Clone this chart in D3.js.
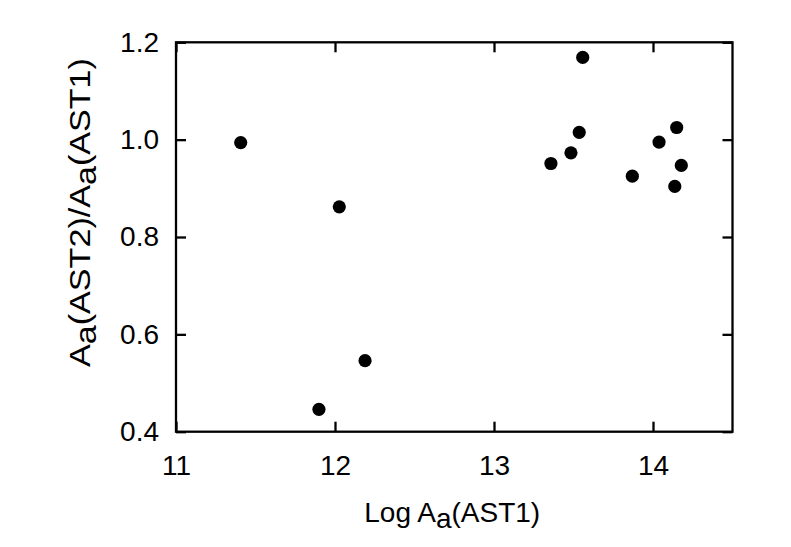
<!DOCTYPE html>
<html><head><meta charset="utf-8">
<script src="https://cdn.jsdelivr.net/npm/d3@7"></script>
<style>body{margin:0;background:#fff}svg{display:block}text{font-family:"Liberation Sans",Arial,sans-serif;fill:#000}</style>
</head><body>
<svg id="c" width="791" height="547"></svg>
<script>
const xValues = [11.407, 12.027, 11.899, 12.189, 13.358, 13.484, 13.536, 13.558, 13.870, 14.038, 14.149, 14.178, 14.137];
const yValues = [0.994, 0.862, 0.446, 0.546, 0.951, 0.973, 1.015, 1.169, 0.925, 0.995, 1.025, 0.947, 0.904];
const xTicks = [11, 12, 13, 14];
const yTicks = [0.4, 0.6, 0.8, 1.0, 1.2];

const svg = d3.select("#c");
const L = 176, R = 732.5, T = 42.3, B = 431.7;
const x = d3.scaleLinear().domain([11, 14.5]).range([L, R]);
const y = d3.scaleLinear().domain([0.4, 1.2]).range([B, T]);
const fs = 28;
const tickLen = 10;

const g = svg.append("g");
// bottom axis with inward ticks
const xb = g.append("g").attr("transform", `translate(0,${B})`)
  .call(d3.axisBottom(x).tickValues(xTicks).tickFormat(d3.format("d")).tickSizeInner(-tickLen).tickSizeOuter(0).tickPadding(23));
const xt = g.append("g").attr("transform", `translate(0,${T})`)
  .call(d3.axisTop(x).tickValues(xTicks).tickFormat("").tickSizeInner(-tickLen).tickSizeOuter(0));
const yl = g.append("g").attr("transform", `translate(${L},0)`)
  .call(d3.axisLeft(y).tickValues(yTicks).tickFormat(d3.format(".1f")).tickSizeInner(-tickLen).tickSizeOuter(0).tickPadding(17));
const yr = g.append("g").attr("transform", `translate(${R},0)`)
  .call(d3.axisRight(y).tickValues(yTicks).tickFormat("").tickSizeInner(-tickLen).tickSizeOuter(0));
[xb, xt, yl, yr].forEach(a => {
  a.select(".domain").remove();
  a.selectAll(".tick line").attr("stroke", "#000").attr("stroke-width", 2.3);
  a.selectAll("text").attr("font-size", fs).attr("font-family", '"Liberation Sans",Arial,sans-serif').attr("fill", "#000");
});
xb.selectAll("text").attr("dy", "0.71em");
// frame
g.append("rect").attr("x", L).attr("y", T).attr("width", R - L).attr("height", B - T)
  .attr("fill", "none").attr("stroke", "#000").attr("stroke-width", 2.3);

// points
g.selectAll("circle.pt").data(xValues.map((v, i) => [v, yValues[i]])).join("circle")
  .attr("class", "pt").attr("cx", d => x(d[0])).attr("cy", d => y(d[1])).attr("r", 6.6).attr("fill", "#000");

// x title
const xtitle = svg.append("text").attr("x", (L + R) / 2 - 2).attr("y", 521.7).attr("text-anchor", "middle").attr("font-size", fs);
xtitle.append("tspan").text("Log A");
xtitle.append("tspan").attr("dy", 6).text("a");
xtitle.append("tspan").attr("dy", -6).text("(AST1)");

// y title
const ytitle = svg.append("text").attr("text-anchor", "middle").attr("font-size", 30)
  .attr("transform", "translate(90,212.5) rotate(-90) scale(1.137,1)");
ytitle.append("tspan").text("A");
ytitle.append("tspan").attr("dy", 6).text("a");
ytitle.append("tspan").attr("dy", -6).text("(AST2)/A");
ytitle.append("tspan").attr("dy", 6).text("a");
ytitle.append("tspan").attr("dy", -6).text("(AST1)");
</script>
</body></html>
